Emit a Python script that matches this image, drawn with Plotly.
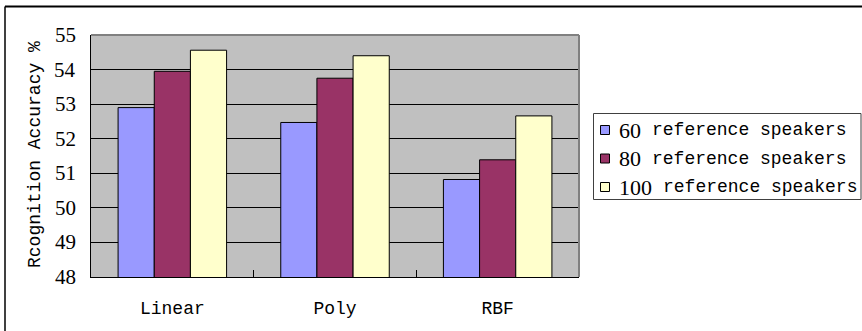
import plotly.graph_objects as go

# Data
kernels = ["Linear", "Poly", "RBF"]
series_names = ["60 reference speakers", "80 reference speakers", "100 reference speakers"]
acc_60 = [52.9, 52.47, 50.82]
acc_80 = [53.95, 53.75, 51.39]
acc_100 = [54.56, 54.40, 52.66]
y_ticks = [48, 49, 50, 51, 52, 53, 54, 55]

colors = ["#9999FF", "#993366", "#FFFFCC"]

W, H = 862, 331
ML, MR, MT, MB = 91, 283, 35, 54
PW, PH = W - ML - MR, H - MT - MB


def px(x):
    return (x - ML) / PW


def py(y):
    return (H - MB - y) / PH


MONO = "Liberation Mono"
SERIF = "Liberation Serif"

fig = go.Figure()
for name, vals, c in zip(series_names, [acc_60, acc_80, acc_100], colors):
    fig.add_trace(go.Bar(
        x=kernels, y=vals, name=name,
        marker=dict(color=c, line=dict(color="black", width=1)),
        showlegend=False,
    ))

shapes = [
    # top and right frame of the plot area
    dict(type="line", xref="paper", yref="paper", x0=0, x1=1, y0=1, y1=1,
         line=dict(color="#808080", width=2)),
    dict(type="line", xref="paper", yref="paper", x0=1, x1=1, y0=0, y1=1,
         line=dict(color="#808080", width=2)),
    # outer chart border (top and left)
    dict(type="line", xref="paper", yref="paper", x0=px(5), x1=px(880),
         y0=py(6.5), y1=py(6.5), line=dict(color="black", width=2)),
    dict(type="line", xref="paper", yref="paper", x0=px(5), x1=px(5),
         y0=py(6.5), y1=py(345), line=dict(color="black", width=1.5)),
    # legend box
    dict(type="rect", xref="paper", yref="paper", x0=px(593.5), x1=px(861),
         y0=py(199.5), y1=py(113.5), line=dict(color="#404040", width=1),
         fillcolor="white"),
]

annotations = [
    dict(text="Rcognition Accuracy %", textangle=-90, xref="paper", yref="paper",
         x=px(35), y=py(155), showarrow=False, xanchor="center", yanchor="middle",
         font=dict(family=MONO, size=18, color="black")),
]

# y tick labels in a serif face, placed on the y scale
for v in y_ticks:
    annotations.append(dict(
        text=str(v), xref="paper", yref="y", x=px(78), y=v, showarrow=False,
        xanchor="right", yanchor="middle",
        font=dict(family=SERIF, size=21, color="black")))

# legend: swatch, number in a serif face, then the rest in monospace
legend_y = [130, 158.5, 187]
for name, c, yy in zip(series_names, colors, legend_y):
    shapes.append(dict(type="rect", xref="paper", yref="paper",
                       x0=px(600.5), x1=px(609.5), y0=py(yy + 4.5), y1=py(yy - 4.5),
                       line=dict(color="black", width=1), fillcolor=c))
    num, rest = name.split(" ", 1)
    annotations.append(dict(
        text=num, xref="paper", yref="paper", x=px(617), y=py(yy), showarrow=False,
        xanchor="left", yanchor="middle",
        font=dict(family=SERIF, size=22, color="black")))
    annotations.append(dict(
        text=rest, xref="paper", yref="paper", x=px(620 + 11 * len(num) + 8),
        y=py(yy), showarrow=False, xanchor="left", yanchor="middle",
        font=dict(family=MONO, size=18, color="black")))

fig.update_layout(
    width=W, height=H,
    margin=dict(l=ML, r=MR, t=MT, b=MB),
    font=dict(family=SERIF, color="black"),
    paper_bgcolor="white",
    plot_bgcolor="#C0C0C0",
    barmode="group",
    bargap=0.333,
    bargroupgap=0,
    shapes=shapes,
    annotations=annotations,
    showlegend=False,
    xaxis=dict(
        type="category", tickson="boundaries", ticks="inside", ticklen=7,
        tickcolor="black", tickwidth=1, showline=True, linecolor="black",
        linewidth=1, showgrid=False, ticklabelstandoff=14,
        tickfont=dict(family=MONO, size=18, color="black"),
    ),
    yaxis=dict(
        range=[48, 55], tickmode="array", tickvals=y_ticks,
        showticklabels=False,
        showgrid=True, gridcolor="black", gridwidth=1,
        showline=True, linecolor="black", linewidth=1, zeroline=False,
        ticks="",
    ),
)

fig.write_html("out.html")
